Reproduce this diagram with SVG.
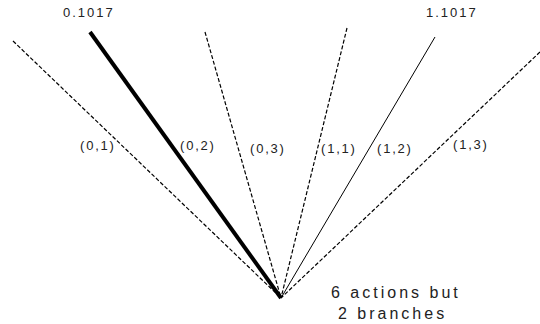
<svg xmlns="http://www.w3.org/2000/svg" width="540" height="324" viewBox="0 0 540 324">
<style>
.bg{fill:#fff}
.d{stroke:#000;stroke-width:1.2;stroke-dasharray:4,2;fill:none}
.s{stroke:#000;stroke-width:1;fill:none}
.t{stroke:#000;stroke-width:4;fill:none}
text{font-family:"Liberation Sans",Arial,sans-serif;fill:#222}
.lbl{font-size:13px;letter-spacing:1.8px}
.val{font-size:13px;letter-spacing:2px}
.note{font-size:16px;letter-spacing:3px}
</style>
<rect class="bg" width="540" height="324"/>
<g id="connectors">
<line class="d" x1="13" y1="41" x2="281" y2="298"/>
<line class="t" x1="90" y1="32" x2="281" y2="298"/>
<line class="d" x1="205" y1="32" x2="281" y2="298"/>
<line class="d" x1="347" y1="28" x2="281" y2="298"/>
<line class="s" x1="435" y1="37" x2="281" y2="298"/>
<line class="d" x1="540" y1="52" x2="281" y2="298"/>
</g>
<g id="labels">
<text class="lbl" x="80" y="150">(0,1)</text>
<text class="lbl" x="180" y="150">(0,2)</text>
<text class="lbl" x="250" y="153">(0,3)</text>
<text class="lbl" x="321" y="153">(1,1)</text>
<text class="lbl" x="377" y="153">(1,2)</text>
<text class="lbl" x="453" y="149">(1,3)</text>
</g>
<g id="values">
<text class="val" x="63" y="17">0.1017</text>
<text class="val" x="426" y="17">1.1017</text>
</g>
<g id="note">
<text class="note" x="331" y="298">6 actions but</text>
<text class="note" x="338" y="319">2 branches</text>
</g>
</svg>
